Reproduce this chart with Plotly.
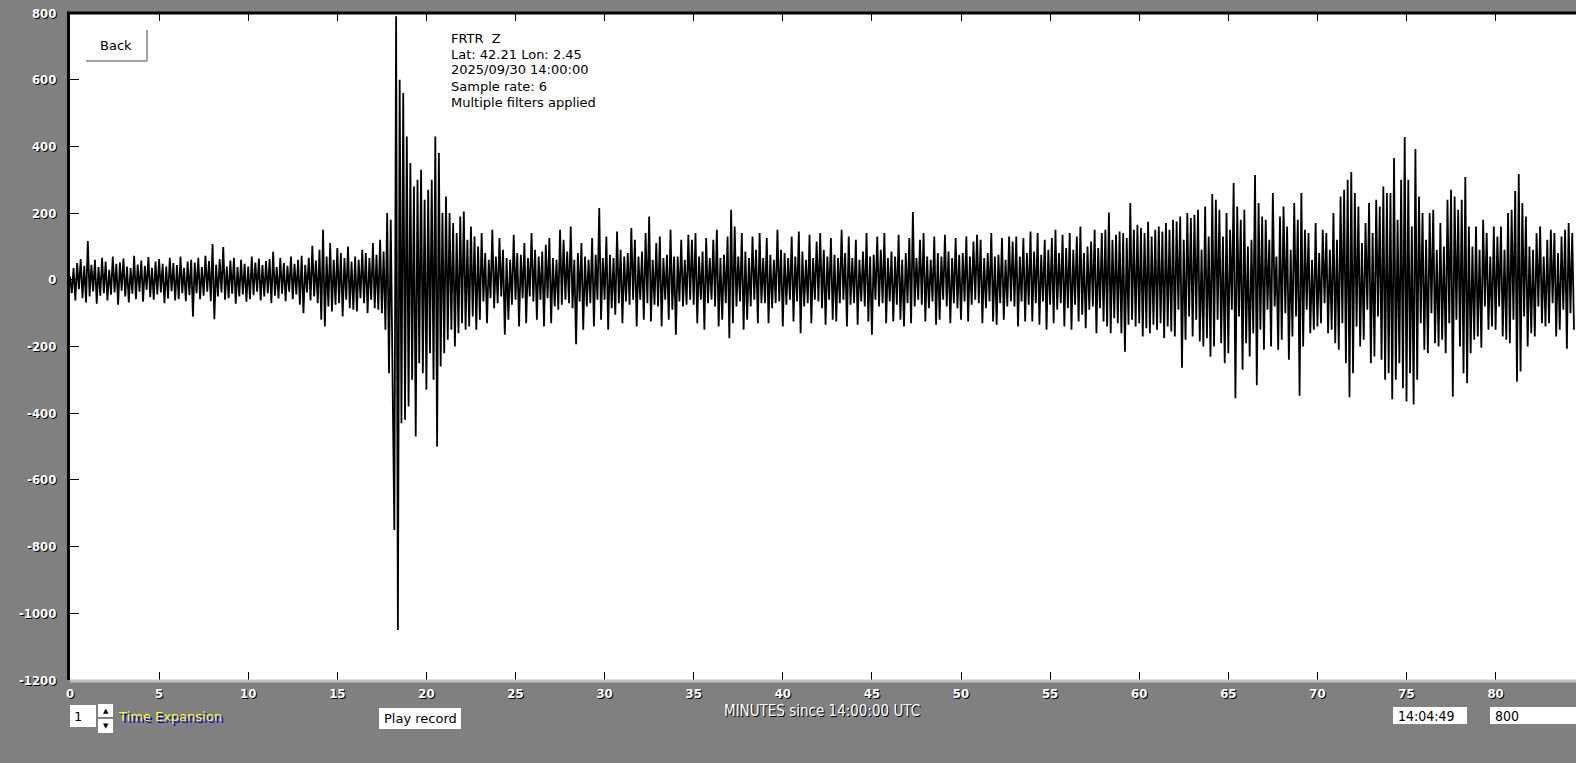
import numpy as np
import plotly.graph_objects as go

# ---------------- data ----------------
dt_min = 0.1  # minutes between plotted samples
x_ticks = list(range(0, 85, 5))
y_ticks = list(range(-1200, 801, 200))

trace_pre = [  # 0 - 18 min
    10, -40, 35, -62, 50, -28, 62, -55, 42, -68,
    116, -50, 45, -35, 60, -72, 38, -48, 66, -40,
    55, -62, 30, -45, 70, -38, 48, -75, 52, -33,
    64, -50, 40, -68, 35, -42, 72, -58, 46, -36,
    58, -66, 42, -30, 68, -52, 36, -60, 55, -44,
    62, -38, 48, -70, 40, -56, 66, -34, 50, -62,
    44, -58, 70, -40, 36, -64, 55, -46, 60, -111,
    52, -40, 66, -58, 38, -48, 72, -36, 56, -64,
    107, -118, 45, -50, 62, -38, 98, -60, 40, -55,
    58, -42, 66, -72, 38, -50, 60, -44, 48, -66,
    40, -58, 70, -46, 52, -36, 64, -62, 44, -50,
    56, -40, 62, -70, 84, -48, 38, -56, 66, -42,
    50, -64, 42, -36, 70, -58, 48, -44, 60, -75,
    72, -100, 45, -38, 66, -62, 102, -50, 58, -70,
    90, -120, 150, -140, 70, -80, 110, -95, 60, -75,
    95, -70, 80, -110, 65, -60, 100, -85, 55, -90,
    70, -95, 60, -55, 90, -70, 80, -100, 65, -60,
    110, -85, 75, -90, 120, -100, 85, -150, 200, -280,
]
trace_event = [  # 18 - 23 min
    180, -350, -750, 790, -1050, 600, -430, 560, -420, 430,
    -380, 350, -300, 280, -470, 300, -250, 330, -280, 240,
    -330, 270, -220, 300, -300, 430, -500, 380, -260, 200,
    -220, 250, -180, 200, -150, 170, -200, 140, -160, 190,
    -130, 205, -150, 120, -140, 160, -110, 130, -150, 100,
]
trace_coda = [  # 23 - 62 min
    -120, 140, -65, 80, -130, 60, -55, 150, -85, 70,
    -70, 125, -50, 90, -165, 65, -120, 60, -75, 135,
    -60, 80, -140, 75, -55, 110, -130, 65, -50, 140,
    -65, 90, -120, 70, -60, 85, -140, 105, -55, 125,
    -130, 65, -80, 60, -90, 150, -75, 120, -60, 85,
    -70, 160, -85, 60, -193, 80, -65, 110, -150, 70,
    -80, 60, -70, 125, -140, 75, -60, 215, -120, 65,
    -60, 130, -150, 75, -85, 65, -105, 145, -70, 90,
    -130, 70, -65, 80, -75, 155, -60, 120, -140, 70,
    -60, 85, -120, 140, -70, 190, -125, 60, -75, 110,
    -80, 130, -140, 65, -60, 75, -120, 150, -90, 70,
    -165, 70, -65, 120, -80, 60, -75, 135, -60, 120,
    -75, 140, -130, 70, -60, 85, -150, 125, -70, 65,
    -60, 120, -80, 150, -140, 65, -120, 75, -70, 130,
    -175, 210, -130, 160, -80, 70, -65, 140, -150, 85,
    -120, 65, -80, 130, -60, 90, -130, 140, -70, 65,
    -70, 125, -130, 75, -85, 60, -70, 150, -65, 90,
    -140, 80, -75, 65, -60, 130, -125, 70, -65, 145,
    -160, 85, -80, 60, -70, 135, -130, 65, -60, 115,
    -65, 140, -85, 90, -135, 70, -60, 125, -120, 75,
    -125, 65, -70, 150, -60, 80, -140, 130, -75, 65,
    -70, 120, -135, 60, -65, 85, -80, 140, -125, 70,
    -165, 75, -60, 130, -80, 90, -70, 140, -130, 65,
    -65, 85, -125, 70, -75, 135, -120, 60, -140, 80,
    -70, 125, -130, 203, -80, 65, -60, 120, -75, 140,
    -125, 70, -85, 60, -65, 130, -135, 80, -120, 70,
    -60, 135, -80, 85, -130, 65, -70, 125, -85, 75,
    -120, 80, -65, 130, -125, 70, -75, 115, -60, 135,
    -70, 120, -130, 65, -85, 80, -65, 140, -125, 70,
    -135, 75, -70, 125, -120, 60, -80, 130, -65, 115,
    -80, 130, -140, 70, -65, 125, -125, 80, -75, 145,
    -125, 85, -70, 140, -135, 75, -65, 120, -150, 90,
    -75, 125, -130, 150, -90, 80, -70, 135, -140, 95,
    -85, 140, -150, 90, -75, 130, -125, 160, -105, 80,
    -145, 100, -90, 115, -80, 150, -160, 95, -85, 140,
    -125, 150, -140, 202, -160, 120, -115, 135, -130, 145,
    -160, 140, -216, 125, -135, 230, -120, 150, -140, 165,
    -130, 155, -170, 140, -145, 174, -160, 130, -135, 150,
    -150, 160, -130, 145, -175, 170, -140, 150, -155, 180,
]
trace_late = [  # 62 - 84.5 min
    -170, 175, -90, 190, -264, 120, -180, 200, -110, 185,
    -170, 195, -120, 210, -185, 90, -200, 220, -175, 130,
    -231, 257, -200, 240, -120, 210, -190, 130, -250, 200,
    -220, 150, -90, 290, -355, 220, -110, 180, -270, 210,
    -190, 100, -230, 120, -160, 314, -316, 230, -150, 190,
    -210, 180, -90, 120, -200, 260, -80, 70, -210, 190,
    -180, 220, -100, 160, -240, 90, -170, 230, -110, 180,
    -348, 260, -200, 150, -90, 140, -160, 60, -150, 170,
    -140, 80, -130, 150, -70, 140, -160, 90, -150, 200,
    -190, 120, -210, 250, -130, 270, -250, 300, -352, 323,
    -280, 260, -140, 220, -200, 110, -180, 170, -90, 230,
    -250, 140, -230, 240, -110, 220, -240, 280, -300, 260,
    -280, 260, -358, 365, -300, 180, -250, 300, -325, 428,
    -365, 300, -280, 160, -374, 392, -300, 250, -130, 200,
    -210, 120, -220, 200, -100, 210, -190, 90, -200, 170,
    -180, 100, -220, 240, -130, 270, -351, 250, -120, 210,
    -200, 240, -280, 308, -310, 160, -220, 100, -180, 160,
    -170, 90, -204, 180, -80, 140, -150, 70, -140, 160,
    -150, 130, -80, 160, -170, 90, -180, 200, -190, 210,
    -120, 266, -306, 317, -275, 230, -110, 190, -200, 100,
    -160, 90, -170, 140, -80, 160, -130, 70, -140, 120,
    -130, 150, -70, 140, -170, 80, -150, 130, -90, 150,
    -207, 170, -100, 140, -150,
]

info_lines = ["FRTR  Z", "Lat: 42.21 Lon: 2.45", "2025/09/30 14:00:00",
              "Sample rate: 6", "Multiple filters applied"]

# ---------------- build ----------------
values = np.array(trace_pre + trace_event + trace_coda + trace_late, dtype=float)
minutes = np.arange(len(values)) * dt_min

W, H = 1576, 763
X0, X1, Y0, Y1 = 70, 1576, 13, 680


def px(x):
    return (x - X0) / (X1 - X0)


def py(y):
    return (Y1 - y) / (Y1 - Y0)


GRAY = "#808080"
narrow = "Liberation Sans Narrow, DejaVu Sans Condensed, Arial Narrow, sans-serif"
tick_font = dict(family=narrow, size=13, color="white", weight="bold", shadow="1px 1px 0px #000000")
ui_font = "DejaVu Sans, Verdana, sans-serif"

fig = go.Figure()
fig.add_trace(go.Scatter(x=minutes, y=values, mode="lines",
                         line=dict(color="black", width=1.8), hoverinfo="skip",
                         showlegend=False))

shapes = []
annotations = []

# borders
shapes.append(dict(type="line", xref="paper", yref="paper", x0=px(67), x1=1, y0=py(13), y1=py(13),
                   line=dict(color="black", width=3)))
shapes.append(dict(type="line", xref="paper", yref="paper", x0=px(70), x1=1, y0=py(681), y1=py(681),
                   line=dict(color="#c0c0c0", width=3)))

# Back button
shapes.append(dict(type="rect", xref="paper", yref="paper", x0=px(86), x1=px(147), y0=py(61), y1=py(30),
                   line=dict(width=0), fillcolor="white"))
shapes.append(dict(type="line", xref="paper", yref="paper", x0=px(86), x1=px(147), y0=py(61), y1=py(61),
                   line=dict(color="#a0a0a0", width=2)))
shapes.append(dict(type="line", xref="paper", yref="paper", x0=px(147), x1=px(147), y0=py(61), y1=py(30),
                   line=dict(color="#a0a0a0", width=2)))
annotations.append(dict(xref="paper", yref="paper", x=px(116), y=py(45), text="Back", showarrow=False,
                        xanchor="center", yanchor="middle", font=dict(family=ui_font, size=13, color="black")))

# station info
for i, line in enumerate(info_lines):
    annotations.append(dict(xref="paper", yref="paper", x=px(449), y=py(38 + 16 * i), text=line,
                            showarrow=False, xanchor="left", yanchor="middle",
                            font=dict(family=ui_font, size=13, color="black")))


def box(x0, x1, y0, y1, color="white"):
    shapes.append(dict(type="rect", xref="paper", yref="paper", x0=px(x0), x1=px(x1), y0=py(y1), y1=py(y0),
                       line=dict(width=0), fillcolor=color))


# bottom controls
box(70, 96, 705, 727)
annotations.append(dict(xref="paper", yref="paper", x=px(72), y=py(716), text="1", showarrow=False,
                        xanchor="left", yanchor="middle", font=dict(family=ui_font, size=13, color="black")))
box(98, 113, 704, 717)
box(98, 113, 719, 733)
annotations.append(dict(xref="paper", yref="paper", x=px(105.5), y=py(710.5), text="▲", showarrow=False,
                        xanchor="center", yanchor="middle", font=dict(family="DejaVu Sans", size=7, color="black")))
annotations.append(dict(xref="paper", yref="paper", x=px(105.5), y=py(726), text="▼", showarrow=False,
                        xanchor="center", yanchor="middle", font=dict(family="DejaVu Sans", size=7, color="black")))
annotations.append(dict(xref="paper", yref="paper", x=px(116), y=py(716), text="Time Expansion", showarrow=False,
                        xanchor="left", yanchor="middle",
                        font=dict(family=ui_font, size=13, color="#ffff00", shadow="2px 2px 0px #0000ff")))
box(379, 461, 708, 729)
annotations.append(dict(xref="paper", yref="paper", x=px(420), y=py(718.5), text="Play record", showarrow=False,
                        xanchor="center", yanchor="middle", font=dict(family=ui_font, size=13, color="black")))
annotations.append(dict(xref="paper", yref="paper", x=px(822), y=py(711), text="MINUTES since 14:00:00 UTC",
                        showarrow=False, xanchor="center", yanchor="middle",
                        font=dict(family=narrow, size=15, color="white", shadow="1px 1px 0px #000000")))
box(1393, 1467, 707, 724)
annotations.append(dict(xref="paper", yref="paper", x=px(1396), y=py(715.5), text="14:04:49", showarrow=False,
                        xanchor="left", yanchor="middle", font=dict(family=narrow, size=14, color="black")))
box(1490, 1576, 707, 724)
annotations.append(dict(xref="paper", yref="paper", x=px(1493), y=py(715.5), text="800", showarrow=False,
                        xanchor="left", yanchor="middle", font=dict(family=narrow, size=14, color="black")))

fig.update_layout(
    width=W, height=H, autosize=False,
    margin=dict(l=X0, r=W - X1, t=Y0, b=H - Y1),
    paper_bgcolor=GRAY, plot_bgcolor="white",
    showlegend=False,
    shapes=shapes, annotations=annotations,
    xaxis=dict(range=[0, (X1 - X0) / 17.82], tickmode="array", tickvals=x_ticks,
               ticktext=[str(v) for v in x_ticks], ticks="inside", ticklen=8, tickwidth=1,
               tickcolor="black", mirror="ticks", showline=False, showgrid=False, zeroline=False,
               tickfont=tick_font, ticklabelstandoff=4, fixedrange=True),
    yaxis=dict(range=[-1200, 800], tickmode="array", tickvals=y_ticks,
               ticktext=[str(v) for v in y_ticks], ticks="inside", ticklen=9, tickwidth=1,
               tickcolor="black", showline=True, linecolor="black", linewidth=3,
               showgrid=False, zeroline=False, tickfont=tick_font, ticklabelstandoff=8,
               fixedrange=True),
)

fig.write_html("out.html", config={"displayModeBar": False},
               post_script="document.body.style.margin='0';document.body.style.overflow='hidden';")
